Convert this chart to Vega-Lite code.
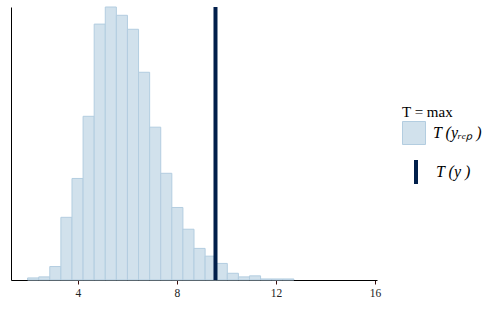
{
  "$schema": "https://vega.github.io/schema/vega-lite/v6.json",
  "autosize": "none",
  "padding": {"left": 11, "top": 7, "right": 123, "bottom": 29},
  "width": 366,
  "height": 273,
  "background": "white",
  "config": {
    "view": {"stroke": null},
    "font": "Liberation Serif",
    "axis": {"grid": false}
  },
  "datasets": {
    "hist": [
      {"bin_start": 1.976, "bin_end": 2.424, "count": 4},
      {"bin_start": 2.424, "bin_end": 2.871, "count": 6},
      {"bin_start": 2.871, "bin_end": 3.319, "count": 26},
      {"bin_start": 3.319, "bin_end": 3.767, "count": 121},
      {"bin_start": 3.767, "bin_end": 4.215, "count": 196},
      {"bin_start": 4.215, "bin_end": 4.663, "count": 316},
      {"bin_start": 4.663, "bin_end": 5.111, "count": 494},
      {"bin_start": 5.111, "bin_end": 5.558, "count": 527},
      {"bin_start": 5.558, "bin_end": 6.006, "count": 511},
      {"bin_start": 6.006, "bin_end": 6.454, "count": 484},
      {"bin_start": 6.454, "bin_end": 6.902, "count": 401},
      {"bin_start": 6.902, "bin_end": 7.35, "count": 295},
      {"bin_start": 7.35, "bin_end": 7.798, "count": 206},
      {"bin_start": 7.798, "bin_end": 8.245, "count": 140},
      {"bin_start": 8.245, "bin_end": 8.693, "count": 98},
      {"bin_start": 8.693, "bin_end": 9.141, "count": 61},
      {"bin_start": 9.141, "bin_end": 9.589, "count": 46},
      {"bin_start": 9.589, "bin_end": 10.037, "count": 32},
      {"bin_start": 10.037, "bin_end": 10.485, "count": 13},
      {"bin_start": 10.485, "bin_end": 10.932, "count": 6},
      {"bin_start": 10.932, "bin_end": 11.38, "count": 8},
      {"bin_start": 11.38, "bin_end": 11.828, "count": 2},
      {"bin_start": 11.828, "bin_end": 12.276, "count": 2},
      {"bin_start": 12.276, "bin_end": 12.724, "count": 2}
    ],
    "obs": [{"T_y": 9.56}]
  },
  "layer": [
    {
      "data": {"name": "hist"},
      "mark": {"type": "bar", "stroke": "#b3cde0", "strokeWidth": 1},
      "encoding": {
        "x": {
          "field": "bin_start",
          "type": "quantitative",
          "scale": {"domain": [1.305, 16.08], "nice": false, "zero": false},
          "axis": {
            "values": [4, 8, 12, 16],
            "title": null,
            "domainColor": "#000000",
            "domainWidth": 1,
            "tickColor": "#3a0d0d",
            "tickSize": 4,
            "tickWidth": 1,
            "labelFont": "Liberation Serif",
            "labelFontSize": 11.5,
            "labelColor": "#222222",
            "labelPadding": 3
          }
        },
        "x2": {"field": "bin_end"},
        "y": {
          "field": "count",
          "type": "quantitative",
          "scale": {"domain": [0, 527], "nice": false},
          "axis": {
            "title": null,
            "labels": false,
            "ticks": false,
            "domainColor": "#000000",
            "domainWidth": 1
          }
        },
        "y2": {"datum": 0},
        "fill": {
          "datum": "T (yᵣₑₚ )",
          "type": "nominal",
          "scale": {"range": ["#d1e1ec"]},
          "legend": {
            "orient": "none",
            "legendX": 391,
            "legendY": 98,
            "padding": 0,
            "title": "T = max",
            "titleFont": "Liberation Serif",
            "titleFontSize": 15,
            "titleFontWeight": "normal",
            "titleColor": "#000000",
            "titlePadding": 1,
            "symbolType": "square",
            "symbolSize": 529,
            "symbolStrokeColor": "#b3cde0",
            "symbolStrokeWidth": 1,
            "symbolOpacity": 1,
            "labelFont": "Liberation Serif",
            "labelFontSize": 16,
            "labelFontStyle": "italic",
            "labelColor": "#000000",
            "labelOffset": 7
          }
        }
      }
    },
    {
      "data": {"name": "obs"},
      "mark": {"type": "rule", "strokeWidth": 4},
      "encoding": {
        "x": {"field": "T_y", "type": "quantitative"},
        "stroke": {
          "datum": "T (y )",
          "type": "nominal",
          "scale": {"range": ["#011f4b"]},
          "legend": {
            "orient": "none",
            "legendX": 391,
            "legendY": 151,
            "padding": 0,
            "title": null,
            "symbolType": "M0,-1V1",
            "symbolSize": 576,
            "symbolStrokeWidth": 4,
            "labelFont": "Liberation Serif",
            "labelFontSize": 16,
            "labelFontStyle": "italic",
            "labelColor": "#000000",
            "labelOffset": 6
          }
        }
      }
    }
  ]
}
